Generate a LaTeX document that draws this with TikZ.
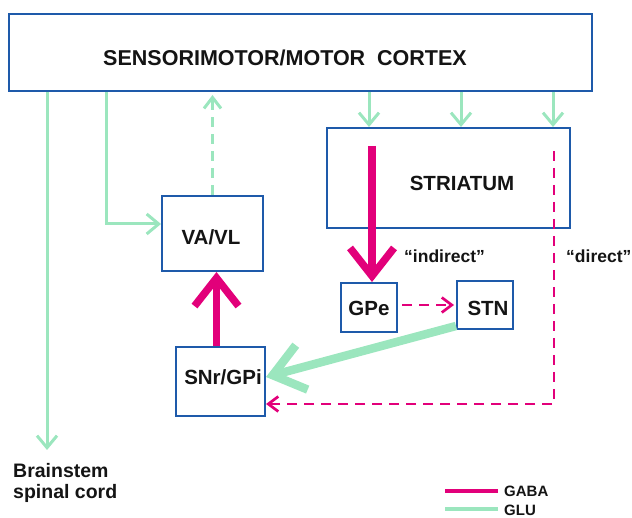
\documentclass[tikz,border=0pt]{standalone}
\usepackage{fontspec}
\setmainfont{Liberation Sans}
\usetikzlibrary{arrows.meta}
\definecolor{gabac}{RGB}{226,0,122}
\definecolor{gluc}{RGB}{155,230,190}
\definecolor{boxc}{RGB}{30,90,170}
\definecolor{txtc}{RGB}{20,20,20}
\begin{document}
\begin{tikzpicture}[x=1pt,y=-1pt,
  box/.style={draw=boxc, line width=2pt, fill=white, inner sep=0pt},
  lbl/.style={font=\fontsize{20.5}{24}\selectfont\bfseries, text=txtc, inner sep=0pt},
  small/.style={font=\fontsize{17.5}{20}\selectfont\bfseries, text=txtc, inner sep=0pt},
  legendtxt/.style={font=\fontsize{15}{18}\selectfont\bfseries, text=txtc, inner sep=0pt},
  glu/.style={draw=gluc, line width=3pt},
  glutip/.style={-{Straight Barb[length=12pt,width=20pt]}},
  gluthick/.style={draw=gluc, line width=8.5pt, -{Straight Barb[length=30pt,width=46pt]}},
  gaba/.style={draw=gabac, line width=2.7pt, dash pattern=on 10pt off 7pt},
  gabatip/.style={-{Straight Barb[length=10pt,width=15pt]}},
  gabathick/.style={draw=gabac, line width=7.5pt, -{Straight Barb[length=28pt,width=44pt]}}
]
\useasboundingbox (0,0) rectangle (632,518);

% boxes
\node[box, minimum width=583pt, minimum height=77pt,
  label={[lbl, font=\fontsize{21.5}{24}\selectfont\bfseries, xshift=-15.5pt, yshift=-5.5pt]center:SENSORIMOTOR/MOTOR\ \ CORTEX}] (cortex) at (300.5,52.5) {};
\node[box, minimum width=243pt, minimum height=100pt,
  label={[lbl, xshift=13.5pt, yshift=-5pt]center:STRIATUM}] (striatum) at (448.5,178) {};
\node[box, minimum width=101pt, minimum height=75pt,
  label={[lbl, xshift=-1.5pt, yshift=-3.5pt]center:VA/VL}] (vavl) at (212.5,233.5) {};
\node[box, minimum width=56pt, minimum height=49pt,
  label={[lbl, yshift=-0.5pt]center:GPe}] (gpe) at (369,307.5) {};
\node[box, minimum width=56pt, minimum height=48pt,
  label={[lbl, xshift=3pt, yshift=-3pt]center:STN}] (stn) at (485,305) {};
\node[box, minimum width=89pt, minimum height=69pt,
  label={[lbl, xshift=2.5pt, yshift=4.5pt]center:SNr/GPi}] (snr) at (220.5,381.5) {};

% text labels
\node[small, anchor=west] (indirect) at (404,256) {``indirect''};
\node[small, anchor=west] (direct) at (566,256) {``direct''};
\node[font=\fontsize{19.5}{21}\selectfont\bfseries, text=txtc, inner sep=0pt,
  align=left, anchor=north west] (brainstem) at (13,463) {Brainstem\\spinal cord};

% cortex -> brainstem
\coordinate (bsTip) at (47,450);
\draw[glu, glutip] (cortex.south -| bsTip) -- (bsTip);

% cortex -> VA/VL
\draw[glu, glutip] ([xshift=98pt]cortex.south west) |- ([yshift=9.5pt]vavl.west);

% VA/VL -> cortex (dashed)
\draw[glu, dash pattern=on 10pt off 7pt, -{Straight Barb[length=11pt,width=17pt]}, shorten >=3pt]
  (vavl.north) -- (vavl.north |- cortex.south);

% cortex -> striatum
\coordinate (s1) at ([xshift=43pt]striatum.north west);
\coordinate (s2) at ([xshift=135pt]striatum.north west);
\coordinate (s3) at ([xshift=227pt]striatum.north west);
\draw[glu, glutip] (s1 |- cortex.south) -- (s1);
\draw[glu, glutip] (s2 |- cortex.south) -- (s2);
\draw[glu, glutip] (s3 |- cortex.south) -- (s3);

% striatum -> GPe (indirect)
\coordinate (indStart) at ([xshift=46pt,yshift=-19pt]striatum.north west);
\draw[gabathick] (indStart) -- (indStart |- gpe.north);

% GPe -> STN
\draw[gaba, gabatip, shorten <=4pt, shorten >=2pt] (gpe.east |- stn.west) -- (stn.west);

% STN -> SNr/GPi
\draw[gluthick] ([yshift=4pt]stn.south west) -- ([yshift=4.5pt]snr.east);

% SNr/GPi -> VA/VL
\coordinate (upx) at ([xshift=4pt]vavl.south);
\draw[gabathick] (upx |- snr.north) -- (upx);

% striatum -> SNr/GPi (direct)
\coordinate (dirStart) at ([xshift=228pt,yshift=-24pt]striatum.north west);
\draw[gaba, gabatip] (dirStart) |- ([yshift=-22.5pt]snr.east);

% legend
\node[legendtxt, anchor=west] (gabaLbl) at (504,491) {GABA};
\node[legendtxt, anchor=west] (gluLbl) at (504,510) {GLU};
\draw[draw=gabac, line width=4pt] ([xshift=-6pt]gabaLbl.west) -- ++(-53,0);
\draw[draw=gluc, line width=4pt] ([xshift=-6pt,yshift=1pt]gluLbl.west) -- ++(-53,0);
\end{tikzpicture}
\end{document}
